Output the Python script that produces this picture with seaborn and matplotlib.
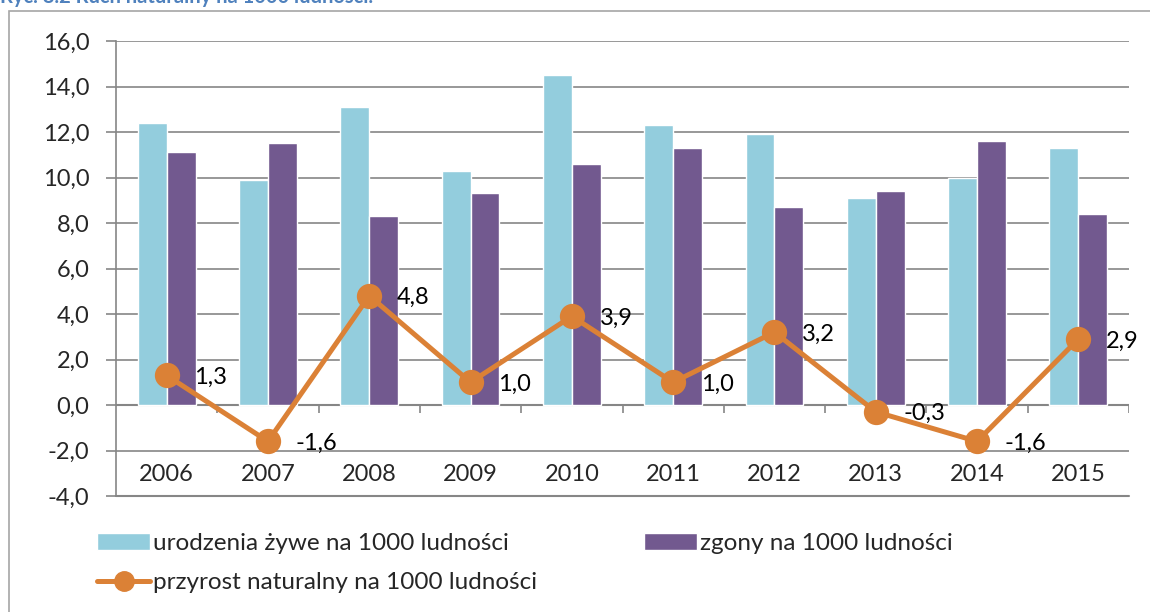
import numpy as np
import pandas as pd
import matplotlib
matplotlib.use('Agg')
import matplotlib.pyplot as plt
import seaborn as sns
from matplotlib.patches import Patch, Rectangle
from matplotlib.lines import Line2D
from matplotlib.ticker import FuncFormatter, MultipleLocator

# dane
years = ['2006', '2007', '2008', '2009', '2010', '2011', '2012', '2013', '2014', '2015']
births = [12.4, 9.9, 13.1, 10.3, 14.5, 12.3, 11.9, 9.1, 10.0, 11.3]
deaths = [11.1, 11.5, 8.3, 9.3, 10.6, 11.3, 8.7, 9.4, 11.6, 8.4]
growth = [1.3, -1.6, 4.8, 1.0, 3.9, 1.0, 3.2, -0.3, -1.6, 2.9]

lab_births = 'urodzenia żywe na 1000 ludności'
lab_deaths = 'zgony na 1000 ludności'
lab_growth = 'przyrost naturalny na 1000 ludności'
title = 'Ryc. 8.2 Ruch naturalny na 1000 ludności.'

c_blue = '#93CDDD'
c_purple = '#72598F'
c_orange = '#DB8136'
c_grid = '#868686'

sns.set_style('white')
plt.rcParams['font.family'] = ['Lato', 'DejaVu Sans']
fs = 17

df = pd.DataFrame({
    'rok': years * 2,
    'wartosc': births + deaths,
    'seria': [lab_births] * len(years) + [lab_deaths] * len(years),
})

fig = plt.figure(figsize=(11.5, 6.12), dpi=100)
ax = fig.add_axes([116 / 1150, 1 - 496 / 612, (1129 - 116) / 1150, (496 - 41) / 612])

sns.barplot(data=df, x='rok', y='wartosc', hue='seria', order=years,
            palette=[c_blue, c_purple], width=0.57, saturation=1,
            legend=False, ax=ax, zorder=3)
sns.pointplot(x=years, y=growth, order=years, color=c_orange, markers='o',
              markersize=15.5, linewidth=3.6, ax=ax, zorder=5)

for i, v in enumerate(growth):
    ax.annotate(f'{v:.1f}'.replace('.', ','), (i, v), xytext=(20, 0),
                textcoords='offset points', va='center_baseline', ha='left',
                fontsize=fs, color='black', zorder=6)

ax.set_ylim(-4, 16)
ax.set_xlim(-0.5, len(years) - 0.5)
ax.yaxis.set_major_locator(MultipleLocator(2))
ax.yaxis.set_major_formatter(FuncFormatter(lambda v, p: f'{v:.1f}'.replace('.', ',')))
ax.grid(axis='y', color=c_grid, lw=1.2, zorder=0)
ax.set_axisbelow(True)
ax.set_xlabel('')
ax.set_ylabel('')
ax.set_xticks([])
for s in ['top', 'right', 'bottom']:
    ax.spines[s].set_visible(False)
ax.spines['left'].set_color(c_grid)
ax.spines['left'].set_linewidth(1.2)
ax.tick_params(axis='y', left=True, length=7, width=1.2, color=c_grid,
               labelsize=fs, pad=12)

# os kategorii na zerze
ax.axhline(0, color=c_grid, lw=1.5, zorder=2)
ax.axhline(-4, color=c_grid, lw=1.5, zorder=2, clip_on=False)
bounds = np.arange(len(years) + 1) - 0.5
ax.vlines(bounds[1:], -0.35, 0, color=c_grid, lw=1.2, zorder=2)
for i, y in enumerate(years):
    ax.text(i, -3.33, y, ha='center', va='baseline', fontsize=fs)

handles = [
    Patch(facecolor=c_blue, label=lab_births),
    Line2D([], [], color=c_orange, lw=3.6, marker='o', markersize=14, label=lab_growth),
    Patch(facecolor=c_purple, label=lab_deaths),
]
fig.legend(handles=handles, ncol=2, loc='upper left', frameon=False,
           bbox_to_anchor=(97 / 1150, 1 - 533 / 612), borderaxespad=0,
           borderpad=0, fontsize=17.5, handlelength=2.2, handleheight=0.65,
           handletextpad=0.1, labelspacing=0.75, columnspacing=4.4)

fig.patches.append(Rectangle((9 / 1150, -0.1), 1.2, 1 - 11 / 612 + 0.1,
                             transform=fig.transFigure, fill=False,
                             ec='#A6A6A6', lw=1.2))
fig.text(0.0, 1 - 3 / 612, title, fontsize=14.5, fontweight='bold',
         color='#4F81BD', va='baseline', ha='left')

fig.savefig('out.png', dpi=100)
